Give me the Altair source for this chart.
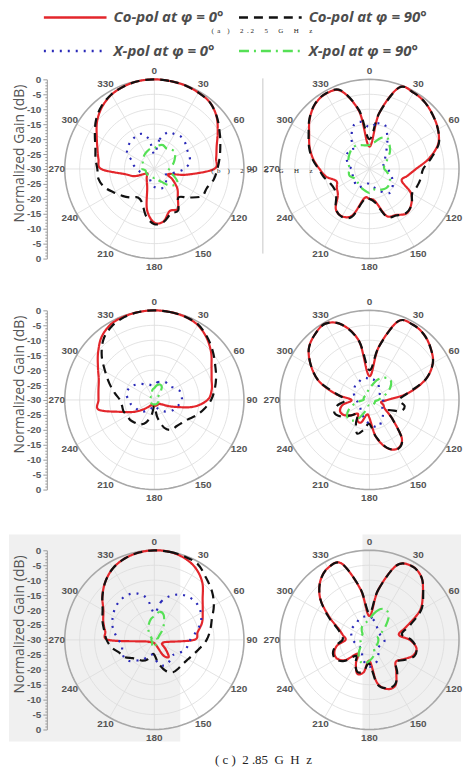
import altair as alt
import numpy as np
import pandas as pd

# ---------------- data (gain in dB, every 10 degrees, clockwise from top) ----------------
ANGLES = list(range(0, 360, 10))
# legend order is filled column by column: Co-pol 0, X-pol 0 | Co-pol 90, X-pol 90
SERIES = ["Co-pol at φ = 0°", "X-pol at φ = 0°", "Co-pol at φ = 90°", "X-pol at φ = 90°"]
COLORS = ["#e3262b", "#2a2ab8", "#111111", "#55e055"]
DASHES = [[1, 0], [2, 6], [9, 6], [10, 5, 2, 5]]
TICK_ANGLES = list(range(0, 360, 30))
CAPTIONS = ["(\u2002a\u2003)\u2003\u20022\u2002. 2\u2003\u20025\u2003\u2002G\u2003\u2002H\u2003\u2002z",
            "(\u2002b\u2003)\u2003\u20022\u2002. 5\u2003\u20025\u2003\u2002G\u2003\u2002H\u2003\u2002z",
            "( c )\u20022 .85\u2002G\u2002H\u2002z"]

# panel 1: 2.25 GHz, left
P1_CO0 = [0, -0.1, -0.2, -0.5, -1, -2.8, -5.5, -7.8, -9, -10,
          -19, -25, -23, -20, -17.8, -14.5, -15, -12.2, -12, -16,
          -23, -25, -26, -26.8, -27, -23, -20, -12.2, -11, -9.7,
          -7.7, -5, -2.8, -1.3, -0.5, -0.1]
P1_CO90 = [0, -0.1, -0.2, -0.5, -1, -2.7, -4.8, -6.5, -7.8, -8.9,
           -9.8, -11.3, -11.7, -15.1, -17.5, -14, -14, -12, -11.5, -14,
           -18, -19, -17.5, -16, -14.3, -12.2, -11, -10.9, -10, -9,
           -7, -4.5, -2.5, -1.2, -0.5, -0.1]
P1_X0 = [-25, -20, -17, -16.5, -16, -16.5, -17.3, -17.5, -18, -20,
         -23, -25, -26, -25, -24, -23.5, -23, -23.5, -24, -25,
         -26, -27, -27, -27, -27, -26, -25, -24, -23, -22,
         -19.5, -18.5, -17.8, -17.5, -17.5, -20]
P1_X90 = [-23, -22, -21.5, -22, -21.5, -21, -22, -23, -24, -25,
          -25, -23, -21, -21.5, -23, -25, -26, -27, -27, -27,
          -27, -27, -27, -27, -27, -27, -27, -26, -26, -26,
          -25.5, -25, -24.5, -24, -23.5, -23]

# panel 2: 2.25 GHz, right
P2_CO0 = [-22.5, -11, -1, -0.5, -1, -2.2, -3.5, -5.5, -9.7, -14.4,
          -17, -18.5, -14, -11.7, -10.6, -12.2, -13.3, -19, -20, -20,
          -13.5, -11.7, -12.5, -16.2, -17.4, -18.2, -15.3, -13.3, -10.9, -8.7,
          -6.7, -3.9, -1.7, -0.9, -2.2, -10.5]
P2_CO90 = [-20, -11, -1, -0.5, -1, -2.2, -3.5, -5.3, -9, -12,
           -12.5, -13, -13.5, -11.5, -10.8, -12, -13, -18.5, -20, -19.5,
           -13, -11.5, -12.5, -15.5, -16.5, -16, -14.5, -13, -10.6, -8.5,
           -6.5, -3.8, -1.6, -0.8, -2, -10]
P2_X0 = [-16, -14.5, -14.5, -18, -21, -23, -24, -25, -25, -24,
         -23, -22, -21, -20, -19.5, -21, -23, -24, -25, -25,
         -24, -23, -23, -23.5, -24, -24, -24, -24, -23, -22,
         -21, -21, -21.5, -18, -14.5, -14]
P2_X90 = [-22, -21, -19, -18, -19.5, -21, -23, -24, -25, -25,
          -24, -23, -22, -21.5, -21.5, -22, -22.5, -23, -22, -22.5,
          -23, -23.5, -24, -24.5, -24, -23, -23, -23.5, -23, -22.5,
          -22, -21.5, -21, -21, -21.5, -22]

# panel 3: 2.55 GHz, left
P3_CO0 = [0, -0.1, -0.3, -1, -2.8, -5.2, -7.9, -9.6, -10.5, -12.2,
          -16.8, -23.4, -27, -28, -28, -28, -28, -28, -28, -28,
          -28, -28, -27, -25, -22, -18.3, -11.1, -11.3, -11, -10.2,
          -8.2, -5.4, -2.5, -0.8, -0.3, -0.1]
P3_CO90 = [0, -0.1, -0.3, -0.8, -2.5, -4.5, -6.5, -8, -9.5, -11,
           -13, -15, -17, -18, -18.5, -18.5, -20, -24, -28, -25,
           -22, -20.5, -20, -19.5, -19.5, -19, -19, -18.5, -16.5, -14,
           -11, -7, -3.5, -1.5, -0.5, -0.1]
P3_X0 = [-25, -24, -23.5, -23, -23, -23, -22, -21, -21, -20.7,
         -21.5, -22.5, -23, -24, -25, -26, -27, -27.5, -28, -27.5,
         -27, -26, -25, -24, -23.5, -23, -22, -21.5, -20.5, -20.5,
         -21, -22, -23, -24, -24.5, -25]
P3_X90 = [-26, -25, -24.5, -25, -27, -28.5, -28.5, -28.5, -28.5, -28.5,
          -28.5, -28.5, -28.5, -28.5, -28.5, -28.5, -28.5, -28.5, -28.5, -28.5,
          -28.5, -28.5, -28.5, -28.5, -28.5, -28.5, -28.5, -28.5, -28.5, -28.5,
          -28.5, -28.5, -28.5, -28.5, -27.5, -26.5]

# panel 4: 2.55 GHz, right
P4_CO0 = [-22, -12, -2, -0.9, -1.5, -3.2, -5.5, -10, -16.9, -24,
          -26, -25, -24, -19.8, -13.1, -11.2, -12.9, -17.5, -24, -25,
          -22, -22, -24, -22, -20, -19.5, -21, -24, -18.6, -12.2,
          -7.5, -3.5, -1.5, -0.5, -3.2, -10]
P4_CO90 = [-20, -12, -2, -0.9, -1.5, -3.2, -5.5, -10, -17, -20,
           -18, -19, -23, -19.8, -13, -11, -13, -17.5, -22, -20,
           -18, -21, -24, -22, -19, -17.5, -19, -22, -19, -12.2,
           -7.5, -3.5, -1.5, -0.5, -3.2, -10]
P4_X0 = [-23, -23, -23.5, -24, -25, -25.5, -26, -26, -25.5, -25.5,
         -25, -25, -25, -24, -23, -22, -20.5, -21, -22, -23,
         -24, -25, -25.5, -26, -26, -26, -26, -25.5, -25, -24.5,
         -24, -23.5, -23, -23, -22.5, -22.5]
P4_X90 = [-26, -25, -23, -21.5, -20.5, -20.5, -22, -24, -26, -27,
          -28, -28, -28, -28, -28, -28, -28, -28, -28, -28,
          -26, -23, -21, -20.5, -21.5, -23.5, -26, -28, -28, -28,
          -28, -28, -28, -28, -27.5, -27]

# panel 5: 2.85 GHz, left
P5_CO0 = [0, -0.1, -0.8, -2.3, -5, -8.9, -11.3, -13, -15.3, -16.7,
          -26, -27, -27, -25, -22.5, -24, -28, -28.5, -29, -29,
          -29, -29, -29, -29, -28.5, -28, -27, -14.6, -13.3, -11.8,
          -10.3, -7.3, -4.5, -2.3, -1, -0.3]
P5_CO90 = [0, -0.1, -0.3, -0.8, -3, -4.8, -7, -9.5, -11, -12.5,
           -14.5, -16, -17, -17.5, -17.5, -17.5, -19, -22, -25, -25,
           -23, -22, -21.5, -20.5, -18.5, -17.5, -15.5, -14, -13, -11.5,
           -10, -7.3, -4.5, -2.3, -1, -0.3]
P5_X0 = [-21, -17, -14.3, -12.5, -11.5, -11.3, -12, -13.5, -16, -18,
         -18.6, -19.5, -21, -22, -21.5, -21, -20.8, -22, -24, -25,
         -24, -22.5, -21, -19, -18.3, -18.5, -19, -18, -16.5, -15,
         -14, -13, -12.5, -12.5, -13.5, -16]
P5_X90 = [-22, -20.5, -21, -23.5, -26, -28, -28.5, -29, -29, -29,
          -29, -29, -29, -29, -29, -29, -28.5, -28, -27.5, -27.5,
          -28, -28.5, -29, -29, -29, -29, -29, -29, -29, -29,
          -29, -28.5, -27.5, -26, -24.5, -23]

# panel 6: 2.85 GHz, right
P6_CO0 = [-22, -13, -3.5, -1.5, -2.8, -6.7, -10.5, -16.7, -20, -16.5,
          -14, -14.5, -17, -18.5, -16, -12.5, -12.5, -15.5, -23, -19,
          -18, -21, -24, -19.5, -17.5, -17.5, -19, -22, -21, -19,
          -14.4, -8.5, -4.4, -2.2, -2.8, -12.8]
P6_CO90 = [-21, -13, -3.5, -1.5, -2.8, -6.5, -10, -15.5, -19, -16,
           -14, -14, -16.5, -18.5, -15.5, -12.8, -12.8, -15, -22, -19.5,
           -18.5, -20.5, -23, -19, -17, -17, -18.5, -21, -20.5, -18.5,
           -14, -8.5, -4.4, -2.2, -2.8, -12.5]
P6_X0 = [-22, -23, -24, -25, -25.5, -26, -26, -26, -25.5, -25,
         -25, -25.5, -26, -26, -25.5, -24, -22.5, -21.5, -21, -22,
         -23.5, -25, -26, -26, -26, -25.5, -25, -24.5, -24, -23.5,
         -23, -23, -23, -22.5, -22, -22]
P6_X90 = [-23, -21, -19, -18.5, -20, -23, -25.5, -27, -27, -27,
          -27, -27, -27, -27, -27, -27, -25, -24, -23, -22,
          -22, -23, -24.5, -26, -27, -27, -27, -27, -27, -27,
          -27, -27, -26, -25, -24.5, -24]

# ---------------- layout ----------------
GMIN = -30.0            # centre of the polar plot
R = 30.0                # outer ring radius in dB units
LBL_R = 32.7
XS = alt.Scale(domain=[-36, 102], nice=False, zero=False)
YS = alt.Scale(domain=[-30, 30], nice=False, zero=False)
W, H = 414, 180
CX = [0, 72]
GRID = "#dcdcdc"


def polar_xy(cx, ang, g):
    r = max(g - GMIN, 0.0)
    t = np.deg2rad(ang)
    return cx + r * np.sin(t), r * np.cos(t)


def curves_df(panels):
    rows = []
    for pid, (cx, series_vals) in enumerate(panels):
        for s, vals in series_vals.items():
            assert len(vals) == len(ANGLES)
            for i, (a, g) in enumerate(zip(ANGLES, vals)):
                x, y = polar_xy(cx, a, g)
                rows.append(dict(key=f"{pid}-{s}", series=s, idx=i, x=x, y=y))
    return pd.DataFrame(rows)


def rings_df(radii):
    rows = []
    t = np.linspace(0, 360, 121)
    for cx in CX:
        for rr in radii:
            for i, a in enumerate(t):
                rows.append(dict(key=f"{cx}-{rr}", idx=i,
                                 x=cx + rr * np.sin(np.deg2rad(a)), y=rr * np.cos(np.deg2rad(a))))
    return pd.DataFrame(rows)


def spokes_df():
    rows = []
    for cx in CX:
        for a in TICK_ANGLES:
            rows.append(dict(x=cx, y=0, x2=cx + R * np.sin(np.deg2rad(a)), y2=R * np.cos(np.deg2rad(a))))
    return pd.DataFrame(rows)


def labels_df():
    rows = []
    for k, cx in enumerate(CX):
        for a in TICK_ANGLES:
            if k == 1 and a == 90:
                continue
            rows.append(dict(x=cx + LBL_R * np.sin(np.deg2rad(a)), y=LBL_R * np.cos(np.deg2rad(a)), t=str(a)))
    return pd.DataFrame(rows)


yaxis = alt.Axis(
    values=list(range(-30, 31)),
    labelExpr="datum.value % 5 === 0 ? '' + (abs(datum.value) - 30) : ''",
    labelOverlap=False, labelFlush=False,
    tickSize={"condition": {"test": "datum.value % 5 === 0", "value": 4}, "value": 2},
    tickColor="#9a9a9a", domainColor="#9a9a9a", tickWidth=1, domainWidth=1,
    labelFont="Liberation Sans", labelFontWeight="bold", labelFontSize=10, labelColor="#5a5a5a",
    labelPadding=2, grid=False, zindex=1,
    title="Normalized Gain (dB)", titleFont="Open Sans", titleFontSize=14, titleFontWeight="normal",
    titleColor="#555555", titlePadding=0, titleY=74,
)


def X(f):
    return alt.X(f, type="quantitative", scale=XS, axis=None)


def Y(f):
    return alt.Y(f, type="quantitative", scale=YS, axis=yaxis)


legend = alt.Legend(
    title=None, orient="none", legendX=21, legendY=-70, columns=2,
    symbolType="M-6,0H6", symbolSize=110, symbolStrokeWidth=2.5, labelOffset=31,
    labelFont="Open Sans", labelFontSize=15, labelFontWeight="bold", labelFontStyle="italic",
    labelColor="#4d4d4d", columnPadding=10, rowPadding=18, labelLimit=300,
)


def make_row(panels, extras=None, captions=None):
    layers = []
    if extras is not None:
        layers += extras
    rings = alt.Chart(rings_df([5, 10, 15, 20, 25])).mark_line(color=GRID, strokeWidth=0.8).encode(
        x=X("x"), y=Y("y"), detail="key:N", order="idx:Q")
    spokes = alt.Chart(spokes_df()).mark_rule(color=GRID, strokeWidth=0.8).encode(
        x=X("x"), y=Y("y"), x2="x2:Q", y2="y2:Q")
    outer = alt.Chart(rings_df([R])).mark_line(color="#a8a8a8", strokeWidth=1.6).encode(
        x=X("x"), y=Y("y"), detail="key:N", order="idx:Q")
    curves = alt.Chart(curves_df(panels)).mark_line(interpolate="cardinal-closed", strokeWidth=2.2).encode(
        x=X("x"), y=Y("y"),
        color=alt.Color("series:N", scale=alt.Scale(domain=SERIES, range=COLORS), legend=legend),
        strokeDash=alt.StrokeDash("series:N", scale=alt.Scale(domain=SERIES, range=DASHES), legend=legend),
        detail="key:N", order="idx:Q")
    labels = alt.Chart(labels_df()).mark_text(font="Liberation Sans", fontWeight="bold", fontSize=10,
                                              color="#555555").encode(x=X("x"), y=Y("y"), text="t:N")
    layers += [rings, spokes, outer, curves, labels]
    if captions is not None:
        layers += captions
    return alt.layer(*layers).properties(width=W, height=H)


def caption(text, x, y, size, font="Liberation Serif"):
    df = pd.DataFrame([dict(x=x, y=y, t=text)])
    return alt.Chart(df).mark_text(font=font, fontSize=size, color="#222222").encode(
        x=X("x"), y=Y("y"), text="t:N")


def series(co0, co90, x0, x90):
    return {SERIES[0]: co0, SERIES[2]: co90, SERIES[1]: x0, SERIES[3]: x90}


sep1 = alt.Chart(pd.DataFrame([dict(x=36.33, y=30.33, y2=-28.33)])).mark_rule(
    color="#c8c8c8", strokeWidth=1).encode(x=X("x"), y=Y("y"), y2="y2:Q")

bg3 = alt.Chart(pd.DataFrame([dict(x=-48.67, x2=8.67, y=35.3, y2=-34.0),
                              dict(x=69.67, x2=102.67, y=35.3, y2=-34.0)])).mark_rect(
    color="#f0f0f0").encode(x=X("x"), x2="x2:Q", y=Y("y"), y2="y2:Q")

row1 = make_row([(CX[0], series(P1_CO0, P1_CO90, P1_X0, P1_X90)),
                 (CX[1], series(P2_CO0, P2_CO90, P2_X0, P2_X90))],
                extras=[sep1],
                captions=[caption(CAPTIONS[0], 36, 46.33, 7), caption(CAPTIONS[1], 36, -0.67, 7)])
row2 = make_row([(CX[0], series(P3_CO0, P3_CO90, P3_X0, P3_X90)),
                 (CX[1], series(P4_CO0, P4_CO90, P4_X0, P4_X90))])
row3 = make_row([(CX[0], series(P5_CO0, P5_CO90, P5_X0, P5_X90)),
                 (CX[1], series(P6_CO0, P6_CO90, P6_X0, P6_X90))],
                extras=[bg3],
                captions=[caption(CAPTIONS[2], 36.5, -40.33, 13)])

inner = alt.vconcat(row2, row3, spacing=61, bounds="flush")
chart = alt.vconcat(row1, inner, spacing=52, bounds="flush").properties(padding=0).configure_view(stroke=None)

chart.save("out.html", embed_options={"renderer": "svg", "actions": False})
